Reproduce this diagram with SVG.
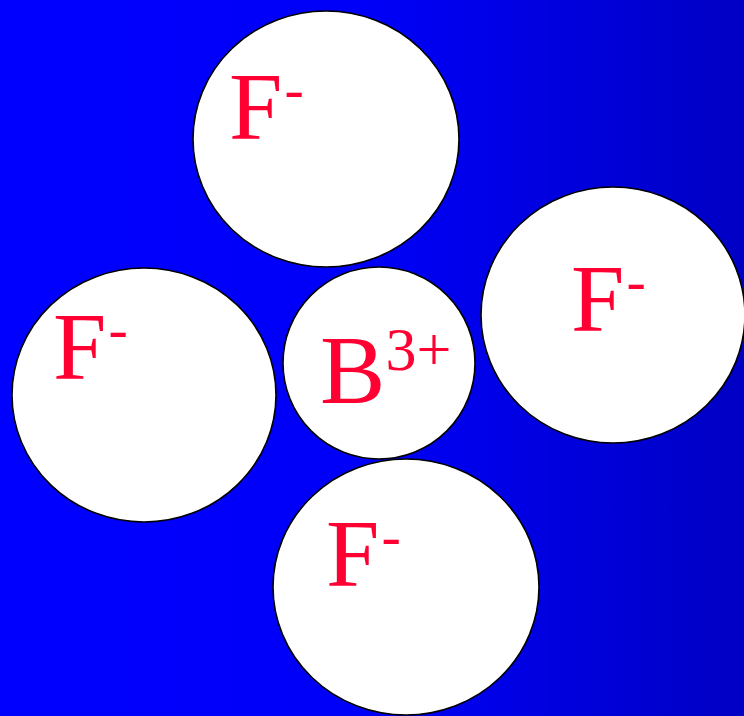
<svg xmlns="http://www.w3.org/2000/svg" width="744" height="716" viewBox="0 0 744 716">
<defs>
<linearGradient id="bg" x1="0" y1="0" x2="1" y2="0">
<stop offset="0" stop-color="#0000FF"/>
<stop offset="0.5" stop-color="#0000F8"/>
<stop offset="1" stop-color="#0000C4"/>
</linearGradient>
<style>
.ion{fill:#FFFFFF;stroke:#000000;stroke-width:1.6}
.lbl{font-family:"Liberation Serif","Times New Roman",serif;fill:#FF0033}
.big{font-size:96px}
.sup{font-size:58px}
</style>
</defs>
<rect x="0" y="0" width="744" height="716" fill="url(#bg)"/>
<g id="F-top">
<ellipse class="ion" cx="326" cy="139" rx="133" ry="128"/>
<text class="lbl big" x="229" y="139">F<tspan class="sup" dx="2" dy="-31">-</tspan></text>
</g>
<g id="F-right">
<ellipse class="ion" cx="613" cy="315" rx="132" ry="128"/>
<text class="lbl big" x="571" y="331">F<tspan class="sup" dx="2" dy="-31">-</tspan></text>
</g>
<g id="F-left">
<ellipse class="ion" cx="144" cy="395" rx="132" ry="127"/>
<text class="lbl big" x="53" y="379">F<tspan class="sup" dx="2" dy="-31">-</tspan></text>
</g>
<g id="B-center">
<ellipse class="ion" cx="379" cy="363" rx="96" ry="96"/>
<text class="lbl" x="320" y="403" font-size="98">B<tspan font-size="62" dy="-33">3+</tspan></text>
</g>
<g id="F-bottom">
<ellipse class="ion" cx="406" cy="587" rx="133" ry="128"/>
<text class="lbl big" x="326" y="586">F<tspan class="sup" dx="2" dy="-31">-</tspan></text>
</g>
<g id="connectors"></g>
</svg>
